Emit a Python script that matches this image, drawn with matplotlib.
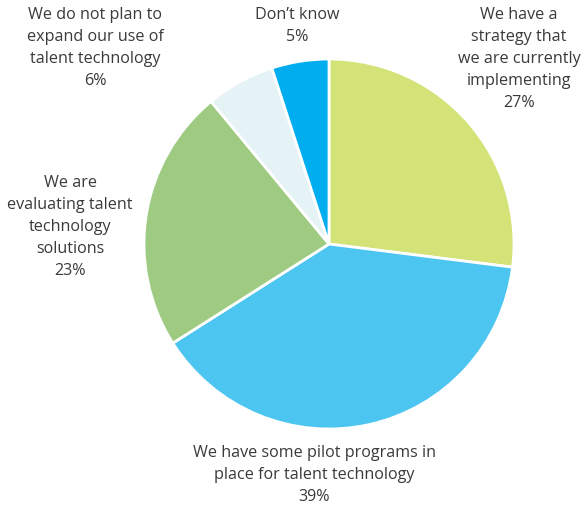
import matplotlib.pyplot as plt
import matplotlib

matplotlib.rcParams['font.family'] = ['Open Sans', 'DejaVu Sans']

labels = ["We have a\nstrategy that\nwe are currently\nimplementing",
          "We have some pilot programs in\nplace for talent technology",
          "We are\nevaluating talent\ntechnology\nsolutions",
          "We do not plan to\nexpand our use of\ntalent technology",
          "Don\u2019t know"]
shares = [27, 39, 23, 6, 5]
colors = ['#d4e378', '#4dc5f1', '#9ecb81', '#e5f3f6', '#00adee']

# label anchor points (pie radius units), text is centred on them
label_pos = [(1.027, 1.005), (-0.081, -1.243), (-1.40, 0.097), (-1.265, 1.065), (-0.173, 1.184)]

W, H = 585, 506
cx, cy, r = 329, 245, 185

fig = plt.figure(figsize=(W / 100, H / 100), dpi=100)
ax = fig.add_axes([(cx - r) / W, (H - cy - r) / H, 2 * r / W, 2 * r / H])
ax.pie(shares, colors=colors, startangle=90, counterclock=False,
       wedgeprops=dict(edgecolor='white', linewidth=2), radius=1)
ax.set_xlim(-1, 1)
ax.set_ylim(-1, 1)
ax.set_aspect('equal')
ax.axis('off')

for lab, v, (x, y) in zip(labels, shares, label_pos):
    ax.text(x, y, lab + "\n" + str(v) + "%", ha='center', va='center',
            fontsize=11.6, color='#3a3a3a', linespacing=1.5, clip_on=False)

fig.savefig('out.png', dpi=100)
